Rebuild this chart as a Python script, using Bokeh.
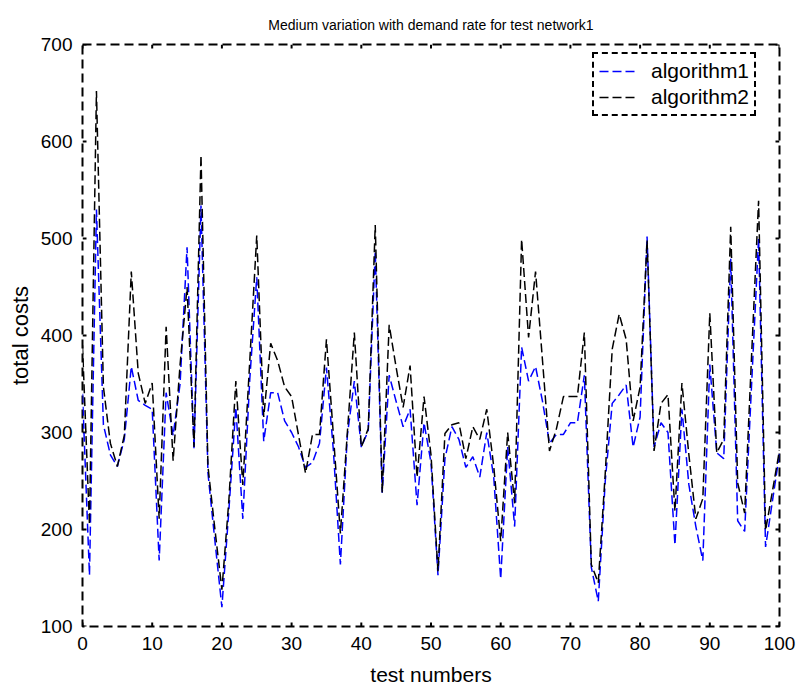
from bokeh.plotting import figure
from bokeh.models import Range1d, LinearAxis, FixedTicker, Legend, LegendItem
from bokeh.embed import file_html
from bokeh.resources import INLINE

test_numbers = list(range(0, 101))

algorithm1 = [340, 153, 530, 308, 277, 265, 293, 368, 333, 328,
              324, 168, 341, 297, 350, 491, 283, 534, 258, 188,
              120, 220, 326, 211, 355, 460, 291, 341, 341, 312,
              300, 285, 264, 269, 289, 367, 281, 164, 297, 353,
              285, 302, 487, 238, 359, 332, 306, 324, 225, 310,
              269, 153, 273, 306, 293, 264, 275, 254, 300, 254,
              149, 285, 203, 388, 353, 368, 332, 289, 298, 298,
              310, 310, 359, 161, 126, 250, 330, 339, 349, 285,
              316, 502, 285, 310, 300, 184, 324, 246, 203, 168,
              370, 279, 273, 479, 209, 198, 350, 500, 182, 230, 278]

algorithm2 = [390, 205, 652, 347, 289, 265, 297, 466, 361, 330,
              351, 211, 409, 271, 370, 450, 285, 586, 265, 200,
              138, 230, 353, 246, 374, 503, 316, 392, 374, 347,
              337, 297, 258, 298, 298, 396, 297, 196, 300, 403,
              285, 304, 514, 238, 411, 367, 326, 369, 254, 337,
              277, 157, 299, 308, 310, 273, 306, 293, 324, 265,
              188, 300, 227, 499, 398, 466, 374, 281, 304, 337,
              337, 337, 403, 164, 145, 258, 386, 422, 396, 312,
              347, 498, 281, 330, 339, 219, 351, 277, 211, 232,
              423, 279, 293, 512, 248, 217, 380, 539, 199, 240, 282]

x_ticks = [0, 10, 20, 30, 40, 50, 60, 70, 80, 90, 100]
y_ticks = [100, 200, 300, 400, 500, 600, 700]

FONT = "Liberation Sans"

p = figure(width=797, height=689, output_backend="svg", toolbar_location=None,
           x_range=Range1d(x_ticks[0], x_ticks[-1]), y_range=Range1d(y_ticks[0], y_ticks[-1]),
           min_border_left=82, min_border_right=18, min_border_top=44, min_border_bottom=63,
           x_axis_location=None, y_axis_location=None)

p.title.text = "Medium variation with demand rate for test network1"
p.title.align = "center"
p.title.text_font = FONT
p.title.text_font_size = "14px"
p.title.text_font_style = "normal"
p.title.text_color = "black"
p.title.standoff = 24

p.xgrid.visible = False
p.ygrid.visible = False
p.background_fill_color = "white"
p.border_fill_color = "white"
p.outline_line_color = "black"
p.outline_line_width = 2
p.outline_line_dash = "9 5"
p.outline_line_alpha = 1.0


def style_axis(ax):
    ax.axis_line_color = None
    ax.major_tick_in = 0
    ax.major_tick_out = 0
    ax.minor_tick_in = 0
    ax.minor_tick_out = 0
    ax.major_label_text_font = FONT
    ax.major_label_text_font_size = "19px"
    ax.major_label_text_color = "black"
    ax.axis_label_text_font = FONT
    ax.axis_label_text_font_size = "21px"
    ax.axis_label_text_font_style = "normal"
    ax.axis_label_text_color = "black"


xb = LinearAxis(ticker=FixedTicker(ticks=x_ticks), axis_label="test numbers")
style_axis(xb)
xb.major_label_standoff = 10
xb.axis_label_standoff = 10
p.add_layout(xb, "below")

yl = LinearAxis(ticker=FixedTicker(ticks=y_ticks), axis_label="total costs")
style_axis(yl)
yl.axis_label_text_font_size = "22px"
yl.major_label_standoff = 10
yl.axis_label_standoff = 5
p.add_layout(yl, "left")

# inward tick marks on all four sides of the box
n_x = len(x_ticks)
n_y = len(y_ticks)
tick_kw = dict(length=4, length_units="screen", angle_units="deg",
               line_color="black", line_width=2)
p.ray(x=x_ticks, y=[y_ticks[0]] * n_x, angle=90, **tick_kw)
p.ray(x=x_ticks, y=[y_ticks[-1]] * n_x, angle=-90, **tick_kw)
p.ray(x=[x_ticks[0]] * n_y, y=y_ticks, angle=0, **tick_kw)
p.ray(x=[x_ticks[-1]] * n_y, y=y_ticks, angle=180, **tick_kw)

r1 = p.line(test_numbers, algorithm1, line_color="#0000ff", line_width=1.5, line_dash="9 4")
r2 = p.line(test_numbers, algorithm2, line_color="black", line_width=1.5, line_dash="9 4")

legend = Legend(items=[LegendItem(label="algorithm1", renderers=[r1]),
                       LegendItem(label="algorithm2", renderers=[r2])],
                location=(510, 510))
legend.border_line_color = "black"
legend.border_line_width = 2
legend.border_line_alpha = 1.0
legend.border_line_dash = "9 5"
legend.background_fill_color = "white"
legend.background_fill_alpha = 1.0
legend.label_text_font = FONT
legend.label_text_font_size = "21px"
legend.label_text_color = "black"
legend.label_height = 24
legend.glyph_height = 24
legend.glyph_width = 39
legend.label_standoff = 13
legend.spacing = 2
legend.padding = 5
legend.margin = 0
p.add_layout(legend, "center")

open("out.html", "w").write(file_html(p, INLINE))
